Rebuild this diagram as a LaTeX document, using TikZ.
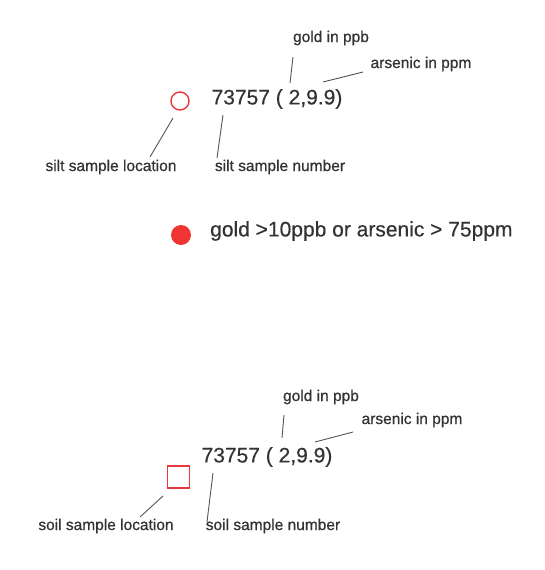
\documentclass[tikz,border=0pt]{standalone}
\usepackage{fontspec}
\setmainfont{Liberation Sans}
\newfontfamily\lblfont[FakeBold=0.8]{Liberation Sans}
\newfontfamily\bigfont[FakeBold=0.4]{Liberation Sans}
\definecolor{mred}{HTML}{E8383C}
\definecolor{dred}{HTML}{F03434}
\definecolor{txt}{HTML}{333333}
\definecolor{ln}{HTML}{555555}
\begin{document}
\begin{tikzpicture}[x=1pt,y=-1pt,
  lbl/.style={inner sep=0pt,text=txt,font=\lblfont\fontsize{15.5}{18}\selectfont},
  big/.style={inner sep=0pt,text=txt,font=\bigfont\fontsize{21}{24}\selectfont},
  lead/.style={draw=ln,line width=0.9pt}]
\useasboundingbox (0,0) rectangle (545,570);
% top (silt)
\node[circle,draw=mred,line width=1.4pt,minimum size=18pt,inner sep=0pt] (sc) at (180,101) {};
\node[big] (sn) at (277,99) {73757 ( 2,9.9)};
\node[lbl] (sg) at (331,38) {gold in ppb};
\node[lbl] (sa) at (421,64) {arsenic in ppm};
\node[lbl] (sl) at (111,167) {silt sample location};
\node[lbl] (snum) at (280,167) {silt sample number};
\coordinate (g1a) at (293,57); \coordinate (g1b) at (290,83);
\coordinate (a1a) at (363,72); \coordinate (a1b) at (323,82);
\coordinate (l1a) at (173,118); \coordinate (l1b) at (150,157);
\coordinate (n1a) at (223,115); \coordinate (n1b) at (217,158);
\draw[lead] (g1a) -- (g1b);
\draw[lead] (a1a) -- (a1b);
\draw[lead] (l1a) -- (l1b);
\draw[lead] (n1a) -- (n1b);
% middle legend
\node[circle,fill=dred,minimum size=20pt,inner sep=0pt] (dot) at (181,235) {};
\node[big,anchor=west] (leg) at (210,231) {gold >10ppb or arsenic > 75ppm};
% bottom (soil)
\node[rectangle,draw=mred,line width=1.4pt,minimum size=22pt,inner sep=0pt] (sq) at (178.5,477) {};
\node[big] (on) at (267,457) {73757 ( 2,9.9)};
\node[lbl] (og) at (321,397) {gold in ppb};
\node[lbl] (oa) at (412,420) {arsenic in ppm};
\node[lbl] (ol) at (106,526) {soil sample location};
\node[lbl] (onum) at (273,526) {soil sample number};
\coordinate (g2a) at (284,415); \coordinate (g2b) at (282,438);
\coordinate (a2a) at (353,432); \coordinate (a2b) at (315,442);
\coordinate (l2a) at (163,496); \coordinate (l2b) at (140,517);
\coordinate (n2a) at (213,473); \coordinate (n2b) at (207,522);
\draw[lead] (g2a) -- (g2b);
\draw[lead] (a2a) -- (a2b);
\draw[lead] (l2a) -- (l2b);
\draw[lead] (n2a) -- (n2b);
\end{tikzpicture}
\end{document}
